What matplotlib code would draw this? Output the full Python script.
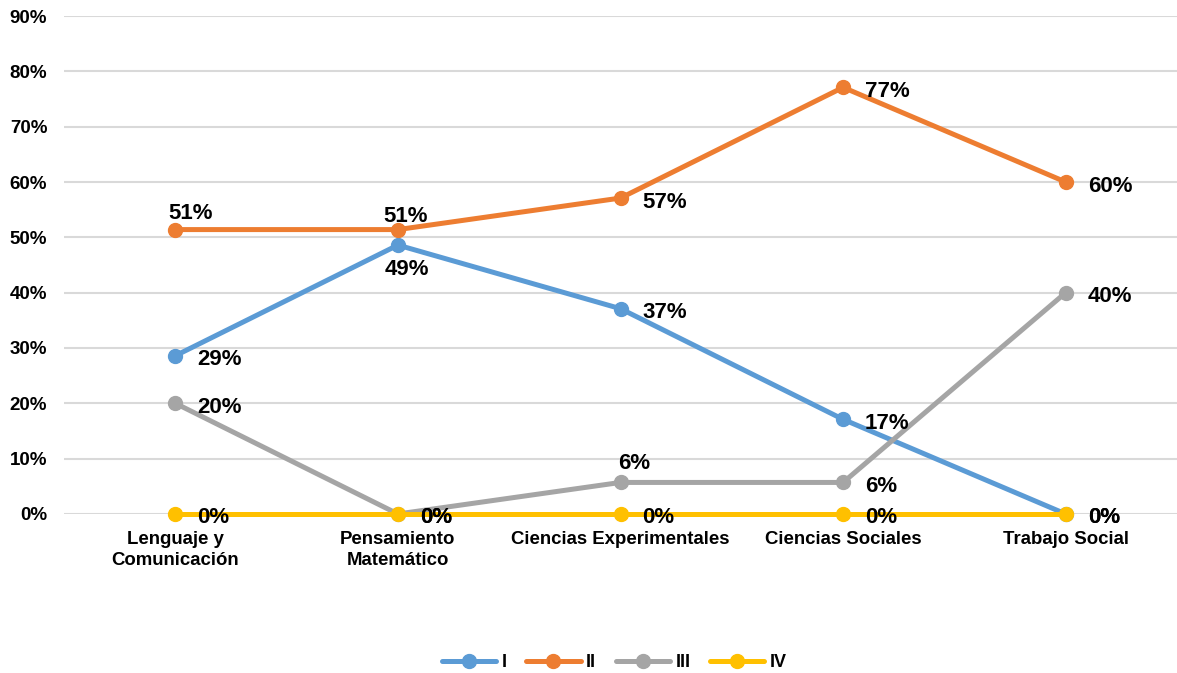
import matplotlib
matplotlib.use("Agg")
import matplotlib.pyplot as plt
from matplotlib.ticker import MultipleLocator, FuncFormatter

categories = ["Lenguaje y\nComunicación", "Pensamiento\nMatemático", "Ciencias Experimentales",
              "Ciencias Sociales", "Trabajo Social"]
series_names = ["I", "II", "III", "IV"]
s_I = [28.6, 48.6, 37.1, 17.1, 0.0]
s_II = [51.4, 51.4, 57.1, 77.1, 60.0]
s_III = [20.0, 0.0, 5.7, 5.7, 40.0]
s_IV = [0.0, 0.0, 0.0, 0.0, 0.0]
series_values = [s_I, s_II, s_III, s_IV]

colors = ["#5B9BD5", "#ED7D31", "#A5A5A5", "#FFC000"]
# label offsets in pixels (dx, dy, ha) per point
R = (22, -4, "left")
off_I = [R, (9, -24, "center"), R, R, R]
off_II = [(15, 16, "center"), (8, 13, "center"), R, R, R]
off_III = [R, R, (14, 19, "center"), R, R]
off_IV = [R, R, R, R, R]
offsets = [off_I, off_II, off_III, off_IV]

plt.rcParams['font.family'] = ['Liberation Sans', 'DejaVu Sans']
plt.rcParams['font.weight'] = 'bold'

fig = plt.figure(figsize=(11.77, 6.73), dpi=100)
ax = fig.add_axes([0.0544, 0.2363, 0.9456, 0.7399])
x = list(range(len(categories)))

for name, vals, c, offs in zip(series_names, series_values, colors, offsets):
    ax.plot(x, vals, color=c, lw=3.6, marker='o', markersize=10, label=name,
            solid_capstyle='round', zorder=3, clip_on=False)
    for xi, v, (dx, dy, ha) in zip(x, vals, offs):
        ax.annotate(f"{v:.0f}%", (xi, v), xytext=(dx * 0.72, dy * 0.72),
                    textcoords='offset points', ha=ha, va='center',
                    fontsize=16, fontweight='bold', color='black', zorder=5)

ax.set_xlim(-0.5, 4.5)
ax.set_ylim(0, 90)
ax.yaxis.set_major_locator(MultipleLocator(10))
ax.yaxis.set_major_formatter(FuncFormatter(lambda v, p: f"{v:.0f}%"))
ax.set_xticks(x)
ax.set_xticklabels(categories, fontsize=13.4, fontweight='bold', linespacing=1.3)
ax.tick_params(axis='both', length=0)
ax.tick_params(axis='y', pad=12, labelsize=13.5)
ax.tick_params(axis='x', pad=12)
ax.grid(axis='y', color='#D9D9D9', lw=1.5, zorder=0)
ax.set_axisbelow(True)
for s in ax.spines.values():
    s.set_visible(False)

leg = fig.legend(loc='center', bbox_to_anchor=(0.522, 0.015), ncol=4, frameon=False,
                 handlelength=3.0, handletextpad=0.3, columnspacing=1.1,
                 prop={'weight': 'bold', 'size': 13})

fig.savefig("out.png", dpi=100)
